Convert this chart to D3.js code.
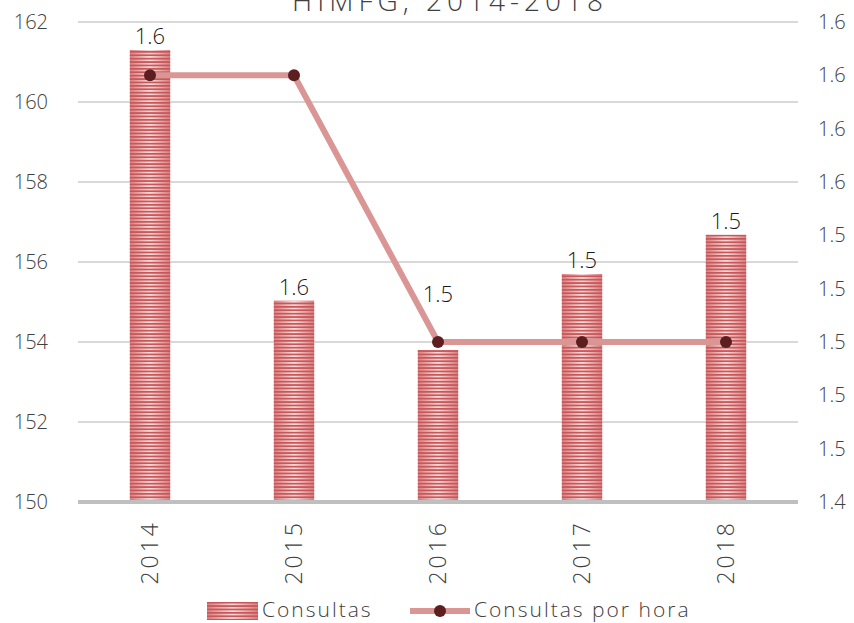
<!DOCTYPE html>
<html>
<head>
<meta charset="utf-8">
<script src="https://cdn.jsdelivr.net/npm/d3@7"></script>
<style>
  body { margin: 0; background: #fff; }
  text { font-family: "Open Sans", "Lato", sans-serif; font-weight: 300; }
</style>
</head>
<body>
<div class="svg-container"></div>
<script>
// chart data
const years = ["2014", "2015", "2016", "2017", "2018"];
const consultas = [161.3, 155.03, 153.8, 155.7, 156.68];
const porHora = [1.6, 1.6, 1.5, 1.5, 1.5];
const leftTicks = [150, 152, 154, 156, 158, 160, 162];
const rightTicks = [1.44, 1.46, 1.48, 1.5, 1.52, 1.54, 1.56, 1.58, 1.6, 1.62];
const title = "HIMFG, 2014-2018";

const width = 854;
const height = 623;
const plot = { left: 78, right: 798, top: 22, bottom: 502 };

const svg = d3
  .select(".svg-container")
  .append("svg")
  .attr("width", width)
  .attr("height", height);

// striped fill for the bars
const defs = svg.append("defs");
const grad = defs
  .append("linearGradient")
  .attr("id", "barGrad")
  .attr("x1", "0").attr("x2", "1").attr("y1", "0").attr("y2", "0");
grad.append("stop").attr("offset", "0%").attr("stop-color", "#d77f80");
grad.append("stop").attr("offset", "50%").attr("stop-color", "#f6dcdc");
grad.append("stop").attr("offset", "100%").attr("stop-color", "#d77f80");

const pat = defs
  .append("pattern")
  .attr("id", "stripes")
  .attr("patternUnits", "userSpaceOnUse")
  .attr("width", 8)
  .attr("height", 3.4);
pat.append("rect").attr("width", 8).attr("height", 1.7).attr("fill", "#c9575a");

const x = d3
  .scaleBand()
  .domain(years)
  .range([plot.left, plot.right])
  .paddingInner(0.72)
  .paddingOuter(0.36);

const yLeft = d3.scaleLinear().domain([150, 162]).range([plot.bottom, plot.top]);
const yRight = d3.scaleLinear().domain([1.44, 1.62]).range([plot.bottom, plot.top]);

// gridlines
svg
  .append("g")
  .selectAll("line")
  .data(leftTicks.slice(1))
  .enter()
  .append("line")
  .attr("x1", plot.left)
  .attr("x2", plot.right)
  .attr("y1", (d) => yLeft(d))
  .attr("y2", (d) => yLeft(d))
  .attr("stroke", "#d9d9d9")
  .attr("stroke-width", 2);

// bars
const bars = svg.append("g");
bars
  .selectAll("rect.base")
  .data(years)
  .enter()
  .append("rect")
  .attr("class", "base")
  .attr("x", (d) => x(d))
  .attr("width", x.bandwidth())
  .attr("y", (d, i) => yLeft(consultas[i]))
  .attr("height", (d, i) => plot.bottom - yLeft(consultas[i]))
  .attr("fill", "url(#barGrad)");
bars
  .selectAll("rect.stripe")
  .data(years)
  .enter()
  .append("rect")
  .attr("class", "stripe")
  .attr("x", (d) => x(d))
  .attr("width", x.bandwidth())
  .attr("y", (d, i) => yLeft(consultas[i]))
  .attr("height", (d, i) => plot.bottom - yLeft(consultas[i]))
  .attr("fill", "url(#stripes)");

// axis baseline
svg
  .append("line")
  .attr("x1", plot.left)
  .attr("x2", plot.right)
  .attr("y1", plot.bottom)
  .attr("y2", plot.bottom)
  .attr("stroke", "#bfbfbf")
  .attr("stroke-width", 4);

// line series
const cx = (d) => x(d) + x.bandwidth() / 2;
const line = d3
  .line()
  .x((d, i) => cx(years[i]))
  .y((d) => yRight(d));
svg
  .append("path")
  .datum(porHora)
  .attr("d", line)
  .attr("fill", "none")
  .attr("stroke", "#d99694")
  .attr("stroke-width", 6);
svg
  .append("g")
  .selectAll("circle")
  .data(porHora)
  .enter()
  .append("circle")
  .attr("cx", (d, i) => cx(years[i]))
  .attr("cy", (d) => yRight(d))
  .attr("r", 6)
  .attr("fill", "#5c1e1e");

// data labels above the bars (moved up when the line point sits on the bar)
svg
  .append("g")
  .selectAll("text")
  .data(porHora)
  .enter()
  .append("text")
  .attr("x", (d, i) => cx(years[i]))
  .attr("y", (d, i) => {
    const top = yLeft(consultas[i]);
    const dot = yRight(d);
    return Math.abs(dot - top) < 15 ? dot - 40 : top - 6;
  })
  .attr("text-anchor", "middle")
  .attr("font-size", "22px")
  .attr("fill", "#1a1a1a")
  .text((d) => d3.format(".1f")(d));

// left axis labels
svg
  .append("g")
  .selectAll("text")
  .data(leftTicks)
  .enter()
  .append("text")
  .attr("x", 48)
  .attr("y", (d) => yLeft(d) + 7)
  .attr("text-anchor", "end")
  .attr("font-size", "20px")
  .attr("fill", "#404040")
  .text((d) => d);

// right axis labels
svg
  .append("g")
  .selectAll("text")
  .data(rightTicks)
  .enter()
  .append("text")
  .attr("x", 818)
  .attr("y", (d) => yRight(d) + 7)
  .attr("text-anchor", "start")
  .attr("font-size", "20px")
  .attr("fill", "#404040")
  .text((d) => d3.format(".1f")(d));

// year labels, rotated
svg
  .append("g")
  .selectAll("text")
  .data(years)
  .enter()
  .append("text")
  .attr("transform", (d) => `translate(${cx(d) + 8},520) rotate(-90)`)
  .attr("text-anchor", "end")
  .attr("font-size", "23px")
  .attr("letter-spacing", "3px")
  .attr("fill", "#404040")
  .text((d) => d);

// title (cut by the top edge, as in the source)
svg
  .append("text")
  .attr("x", 450)
  .attr("y", 11)
  .attr("text-anchor", "middle")
  .attr("font-size", "28px")
  .attr("letter-spacing", "5px")
  .attr("fill", "#404040")
  .text(title);

// legend
const legend = svg.append("g");
legend
  .append("rect")
  .attr("x", 207)
  .attr("y", 602)
  .attr("width", 51)
  .attr("height", 18)
  .attr("fill", "url(#barGrad)");
legend
  .append("rect")
  .attr("x", 207)
  .attr("y", 602)
  .attr("width", 51)
  .attr("height", 18)
  .attr("fill", "url(#stripes)");
legend
  .append("text")
  .attr("x", 262)
  .attr("y", 617)
  .attr("font-size", "21px")
  .attr("letter-spacing", "2px")
  .attr("fill", "#404040")
  .text("Consultas");
legend
  .append("line")
  .attr("x1", 410)
  .attr("x2", 470)
  .attr("y1", 611)
  .attr("y2", 611)
  .attr("stroke", "#d99694")
  .attr("stroke-width", 6);
legend
  .append("circle")
  .attr("cx", 440)
  .attr("cy", 611)
  .attr("r", 6)
  .attr("fill", "#5c1e1e");
legend
  .append("text")
  .attr("x", 474)
  .attr("y", 617)
  .attr("font-size", "21px")
  .attr("letter-spacing", "2px")
  .attr("fill", "#404040")
  .text("Consultas por hora");
</script>
</body>
</html>
